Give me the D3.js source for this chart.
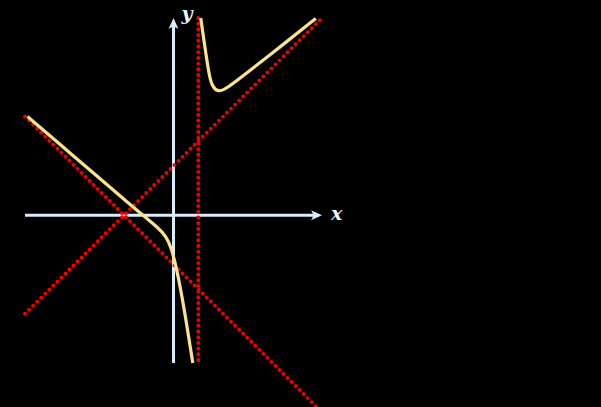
<!DOCTYPE html>
<html><head><meta charset="utf-8">
<script src="https://cdn.jsdelivr.net/npm/d3@7"></script>
<style>html,body{margin:0;padding:0;background:#000;}svg{display:block;}</style>
</head><body>
<svg id="c" width="601" height="407"></svg>
<script>
// Domains
const xDomain = [-6, 6];
const yDomain = [-6, 8];
// Asymptotes
const vertAsymptoteX = 1;
const obliqueUp = [[-6, -4], [6, 8]];      // y = x + 2
const obliqueDown = [[-6, 4], [5.8, -7.8]]; // y = -x - 2
// Curve branches
const leftBranch = [
  [-5.9, 4.0], [-4.5, 2.8], [-3, 1.5], [-2, 0.65], [-1.2, -0.04],
  [-0.65, -0.48], [-0.3, -0.85], [-0.08, -1.35], [0.1, -2.07],
  [0.3, -3.05], [0.52, -4.35], [0.78, -6.0]
];
const rightBranch = [
  [1.1, 8.0], [1.3, 6.6], [1.45, 5.61], [1.58, 5.2], [1.8, 5.0],
  [2.1, 5.1], [3, 5.8], [4.5, 6.98], [5.75, 7.98]
];
const axisLabels = ["x", "y"];

const svg = d3.select("#c");
const x = d3.scaleLinear().domain(xDomain).range([25, 322]);
const y = d3.scaleLinear().domain(yDomain).range([363, 18]);

const axisColor = "#d8ecfb";
// axes
svg.append("line").attr("x1", x(xDomain[0])).attr("x2", x(xDomain[1]) - 4)
  .attr("y1", y(0)).attr("y2", y(0)).attr("stroke", axisColor).attr("stroke-width", 3);
svg.append("line").attr("x1", x(0)).attr("x2", x(0))
  .attr("y1", y(yDomain[0])).attr("y2", y(yDomain[1]) + 4).attr("stroke", axisColor).attr("stroke-width", 3);
// arrowheads
const ax = x(xDomain[1]), ay = y(0);
svg.append("path").attr("d", `M${ax},${ay} L${ax-11},${ay-5} Q${ax-7},${ay} ${ax-11},${ay+5} Z`).attr("fill", axisColor);
const bx = x(0), by = y(yDomain[1]);
svg.append("path").attr("d", `M${bx},${by} L${bx-5},${by+11} Q${bx},${by+7} ${bx+5},${by+11} Z`).attr("fill", axisColor);
// labels
svg.append("text").attr("x", x(xDomain[1]) + 9).attr("y", y(0) + 5).text(axisLabels[0])
  .attr("font-family", "DejaVu Serif, Liberation Serif, serif").attr("font-style", "italic").attr("font-weight", "bold")
  .attr("font-size", 19).attr("fill", "#eef6ff");
svg.append("text").attr("x", x(0) + 8).attr("y", y(yDomain[1]) + 2).text(axisLabels[1])
  .attr("font-family", "DejaVu Serif, Liberation Serif, serif").attr("font-style", "italic").attr("font-weight", "bold")
  .attr("font-size", 19).attr("fill", "#eef6ff");

// red dotted asymptotes
const red = "#f00000";
function dotted(p1, p2) {
  svg.append("line").attr("x1", x(p1[0])).attr("y1", y(p1[1])).attr("x2", x(p2[0])).attr("y2", y(p2[1]))
    .attr("stroke", red).attr("stroke-width", 3.9).attr("stroke-linecap", "round")
    .attr("stroke-dasharray", "0 5.7");
}
dotted([vertAsymptoteX, yDomain[1]], [vertAsymptoteX, yDomain[0]]);
dotted(obliqueUp[0], obliqueUp[1]);
dotted(obliqueDown[0], obliqueDown[1]);

// curve
const line = d3.line().x(d => x(d[0])).y(d => y(d[1])).curve(d3.curveBasis);
[leftBranch, rightBranch].forEach(b => {
  svg.append("path").attr("d", line(b)).attr("fill", "none").attr("stroke", "#fbe28c")
    .attr("stroke-width", 3.2).attr("stroke-linecap", "butt");
});
</script>
</body></html>
